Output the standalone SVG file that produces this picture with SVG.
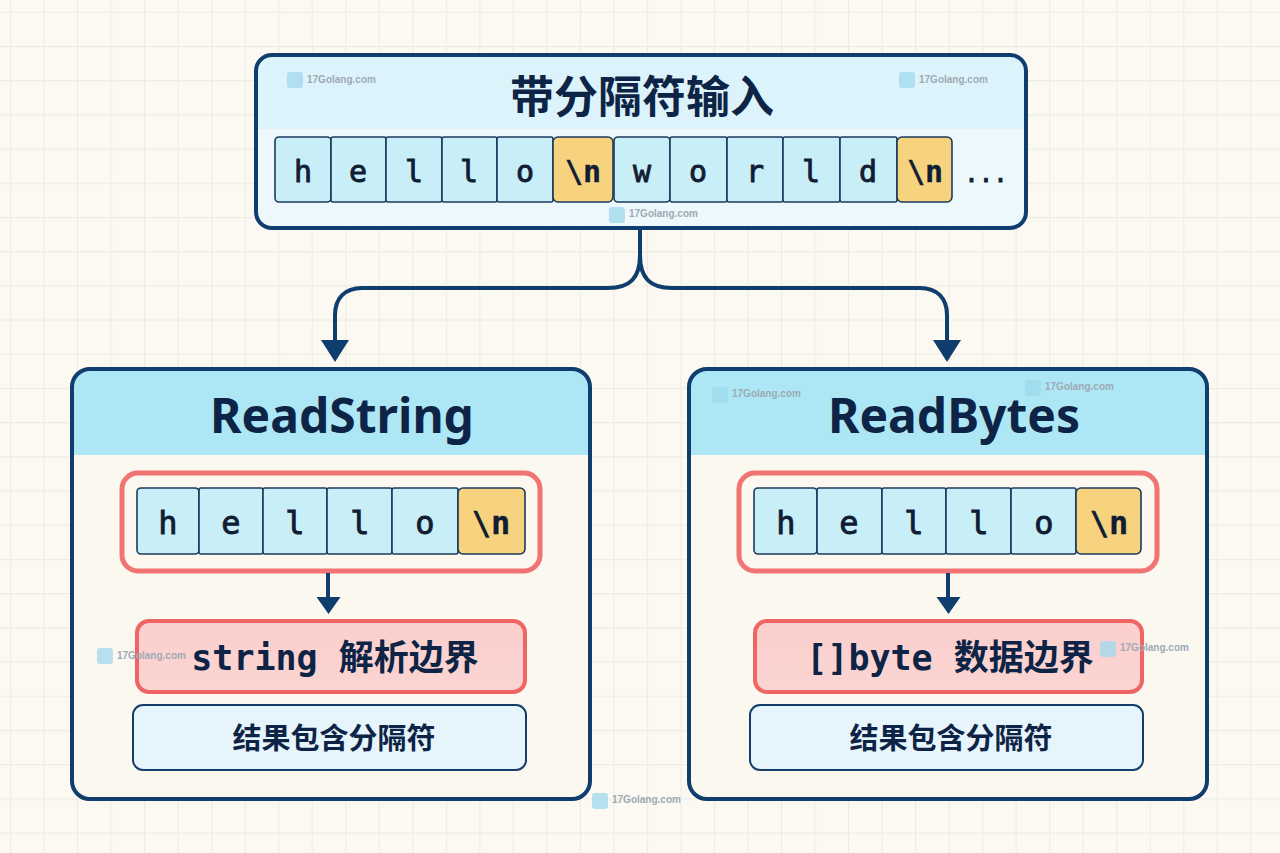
<svg xmlns="http://www.w3.org/2000/svg" width="1280" height="853" viewBox="0 0 1280 853">
<style>
.cell{fill:#C8EEF8;stroke:#1B3A5C;stroke-width:1.6}
.nl{fill:#F7D27F;stroke:#1B3A5C;stroke-width:1.6}
.ch{font-family:"DejaVu Sans Mono","Liberation Mono",monospace;font-weight:normal;fill:#111D33;stroke:#111D33;stroke-width:0.9;text-anchor:middle}
.ch .b{font-weight:bold;stroke-width:0.3}
.title{font-family:"Noto Sans","Open Sans",sans-serif;font-weight:bold;fill:#0E2446;text-anchor:middle}
.cjk{font-family:"Noto Sans CJK SC","Noto Sans",sans-serif;font-weight:bold;fill:#0E2446;text-anchor:middle}
.mono{font-family:"DejaVu Sans Mono","Noto Sans CJK SC",monospace;font-weight:bold;fill:#0E2446;text-anchor:middle}
.outer{stroke:#0F3D6E;stroke-width:4}
.frame{fill:#FCF8EF;stroke:#F07474;stroke-width:5}
.pink{fill:url(#pinkg);stroke:#EF6565;stroke-width:4}
.res{fill:#E6F4FB;stroke:#143D6A;stroke-width:2}
.wm text{font-family:"Liberation Sans",Arial,sans-serif;font-weight:bold;font-size:10px;fill:#9DAAB4}
.wm rect{fill:#9FD8EC;opacity:.75}
.conn{fill:none;stroke:#0F3D6E;stroke-width:4}
.head{fill:#0F3D6E}
</style>
<defs>
<pattern id="grid" x="10" y="11.7" width="33.52" height="34.2" patternUnits="userSpaceOnUse">
<path d="M0.5,0 V34.2 M0,0.5 H33.52" stroke="#EDECE4" stroke-width="1.2" fill="none"/>
</pattern>
<linearGradient id="pinkg" x1="0" y1="0" x2="0" y2="1">
<stop offset="0" stop-color="#FBCFCD"/>
<stop offset="1" stop-color="#FAD5D2"/>
</linearGradient>
<clipPath id="topclip"><rect x="256" y="55" width="770" height="173" rx="16"/></clipPath>
<clipPath id="lclip"><rect x="72" y="369" width="518" height="430" rx="18"/></clipPath>
<clipPath id="rclip"><rect x="689" y="369" width="518" height="430" rx="18"/></clipPath>
</defs>

<rect width="1280" height="853" fill="#FBF9F1"/>
<rect width="1280" height="853" fill="url(#grid)"/>

<g id="input">
<rect x="256" y="55" width="770" height="173" rx="16" fill="#ECF8FC"/>
<rect x="256" y="55" width="770" height="74" fill="#DDF3FB" clip-path="url(#topclip)"/>
<rect x="256" y="55" width="770" height="173" rx="16" fill="none" class="outer"/>
<text x="642" y="113" class="cjk" font-size="44" font-weight="900">带分隔符输入</text>
<rect class="cell" x="275" y="137" width="56" height="65" rx="4"/>
<rect class="cell" x="331" y="137" width="55" height="65" rx="2"/>
<rect class="cell" x="386" y="137" width="56" height="65" rx="2"/>
<rect class="cell" x="442" y="137" width="55" height="65" rx="2"/>
<rect class="cell" x="497" y="137" width="56" height="65" rx="2"/>
<rect class="nl" x="553" y="137" width="60" height="65" rx="5"/>
<rect class="cell" x="614" y="137" width="56" height="65" rx="4"/>
<rect class="cell" x="670" y="137" width="57" height="65" rx="2"/>
<rect class="cell" x="727" y="137" width="56" height="65" rx="2"/>
<rect class="cell" x="783" y="137" width="57" height="65" rx="2"/>
<rect class="cell" x="840" y="137" width="57" height="65" rx="2"/>
<rect class="nl" x="897" y="137" width="55" height="65" rx="5"/>
<g class="ch" font-size="30">
<text x="303" y="182">h</text>
<text x="358" y="182">e</text>
<text x="414" y="182">l</text>
<text x="469" y="182">l</text>
<text x="525" y="182">o</text>
<text x="583" y="182" class="b">\n</text>
<text x="642" y="182">w</text>
<text x="698" y="182">o</text>
<text x="755" y="182">r</text>
<text x="811" y="182">l</text>
<text x="868" y="182">d</text>
<text x="925" y="182" class="b">\n</text>
</g>
<text x="986" y="182" class="ch" font-size="24" stroke-width="0">...</text>
</g>

<g id="readstring">
<rect x="72" y="369" width="518" height="430" rx="18" fill="#FBF8F0"/>
<rect x="72" y="369" width="518" height="86" fill="#ADE7F6" clip-path="url(#lclip)"/>
<rect x="72" y="369" width="518" height="430" rx="18" fill="none" class="outer"/>
<text x="342" y="433" class="title" font-size="48">ReadString</text>
<rect class="frame" x="122" y="473" width="418" height="98" rx="16"/>
<rect class="cell" x="137" y="488" width="62" height="66" rx="4"/>
<rect class="cell" x="199" y="488" width="64" height="66" rx="2"/>
<rect class="cell" x="263" y="488" width="64" height="66" rx="2"/>
<rect class="cell" x="327" y="488" width="65" height="66" rx="2"/>
<rect class="cell" x="392" y="488" width="66" height="66" rx="2"/>
<rect class="nl" x="458" y="488" width="67" height="66" rx="5"/>
<g class="ch" font-size="32">
<text x="168" y="534">h</text>
<text x="231" y="534">e</text>
<text x="295" y="534">l</text>
<text x="360" y="534">l</text>
<text x="425" y="534">o</text>
<text x="491" y="534" class="b">\n</text>
</g>
<rect class="pink" x="137" y="621" width="388" height="71" rx="12"/>
<text x="335" y="670" class="mono" font-size="35">string 解析边界</text>
<rect class="res" x="133" y="705" width="393" height="65" rx="10"/>
<text x="334" y="749" class="cjk" font-size="29">结果包含分隔符</text>
</g>

<g id="readbytes">
<rect x="689" y="369" width="518" height="430" rx="18" fill="#FBF8F0"/>
<rect x="689" y="369" width="518" height="86" fill="#ADE7F6" clip-path="url(#rclip)"/>
<rect x="689" y="369" width="518" height="430" rx="18" fill="none" class="outer"/>
<text x="954" y="433" class="title" font-size="48">ReadBytes</text>
<rect class="frame" x="739" y="473" width="418" height="98" rx="16"/>
<rect class="cell" x="754" y="488" width="63" height="66" rx="4"/>
<rect class="cell" x="817" y="488" width="65" height="66" rx="2"/>
<rect class="cell" x="882" y="488" width="64" height="66" rx="2"/>
<rect class="cell" x="946" y="488" width="65" height="66" rx="2"/>
<rect class="cell" x="1011" y="488" width="65" height="66" rx="2"/>
<rect class="nl" x="1076" y="488" width="65" height="66" rx="5"/>
<g class="ch" font-size="32">
<text x="786" y="534">h</text>
<text x="849" y="534">e</text>
<text x="914" y="534">l</text>
<text x="979" y="534">l</text>
<text x="1044" y="534">o</text>
<text x="1109" y="534" class="b">\n</text>
</g>
<rect class="pink" x="755" y="621" width="387" height="71" rx="12"/>
<text x="950" y="670" class="mono" font-size="35">[]byte 数据边界</text>
<rect class="res" x="750" y="705" width="393" height="65" rx="10"/>
<text x="951" y="749" class="cjk" font-size="29">结果包含分隔符</text>
</g>

<g id="connectors">
<path class="conn" d="M640,228 V255 C640,278 630,288 608,288 H362 C345,288 335,298 335,315 V342"/>
<path class="conn" d="M640,228 V255 C640,278 650,288 672,288 H920 C937,288 947,298 947,315 V342"/>
<polygon class="head" points="321,340 349,340 335,362"/>
<polygon class="head" points="933,340 961,340 947,362"/>
<path class="conn" d="M328,573 V599"/>
<polygon class="head" points="316.5,597 340.5,597 328.5,614"/>
<path class="conn" d="M948,573 V599"/>
<polygon class="head" points="936.5,597 960.5,597 948.5,614"/>
</g>

<g id="watermarks" class="wm">
<g><rect x="287" y="72" width="16" height="16" rx="3"/><text x="307" y="83">17Golang.com</text></g>
<g><rect x="899" y="72" width="16" height="16" rx="3"/><text x="919" y="83">17Golang.com</text></g>
<g><rect x="609" y="207" width="16" height="16" rx="3"/><text x="629" y="217">17Golang.com</text></g>
<g><rect x="712" y="387" width="16" height="16" rx="3"/><text x="732" y="397">17Golang.com</text></g>
<g><rect x="1025" y="380" width="16" height="16" rx="3"/><text x="1045" y="390">17Golang.com</text></g>
<g><rect x="97" y="648" width="16" height="16" rx="3"/><text x="117" y="659">17Golang.com</text></g>
<g><rect x="1100" y="641" width="16" height="16" rx="3"/><text x="1120" y="651">17Golang.com</text></g>
<g><rect x="592" y="793" width="16" height="16" rx="3"/><text x="612" y="803">17Golang.com</text></g>
</g>
</svg>
